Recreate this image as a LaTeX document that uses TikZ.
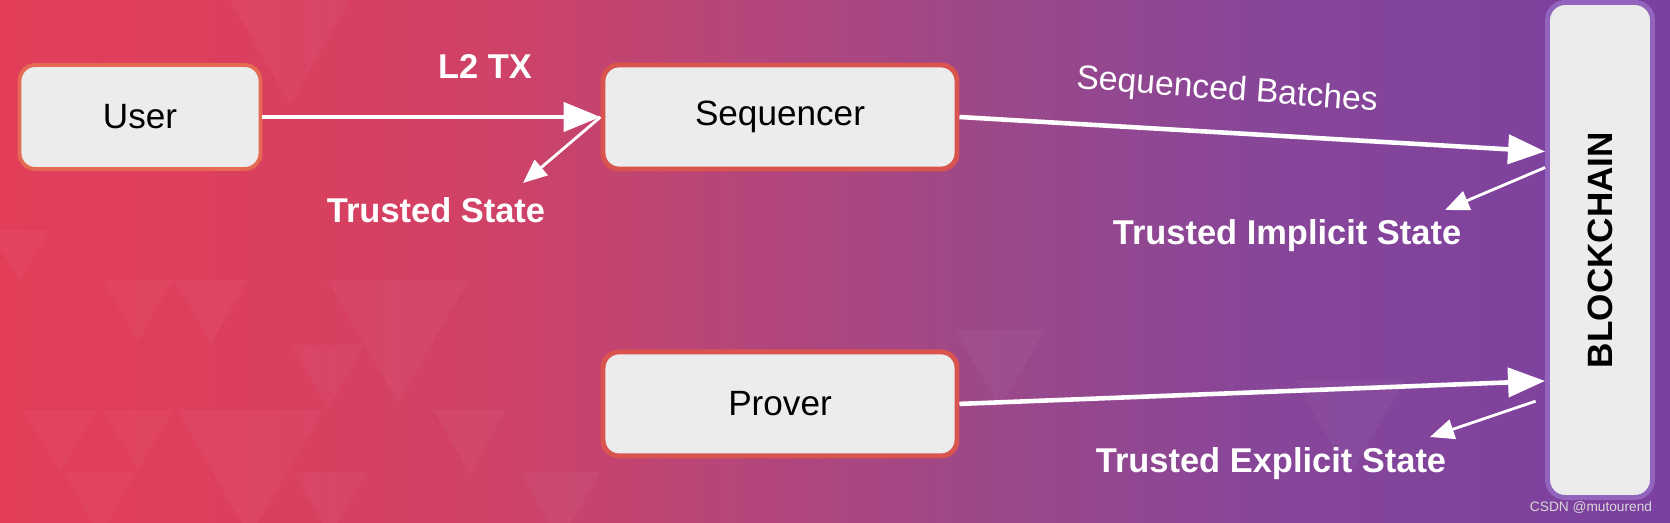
\documentclass[tikz,border=0pt]{standalone}
\usepackage{fontspec}
\setmainfont{Liberation Sans}
\usepackage{tikz}
\usetikzlibrary{positioning,arrows.meta,calc}

\definecolor{boxfill}{RGB}{236,236,236}
\definecolor{boxline}{RGB}{217,84,79}
\definecolor{userline}{RGB}{228,106,84}
\definecolor{chainline}{RGB}{146,100,190}
\definecolor{bgA}{RGB}{226,62,90}
\definecolor{bgB}{RGB}{219,63,94}
\definecolor{bgC}{RGB}{207,66,103}
\definecolor{bgD}{RGB}{180,70,123}
\definecolor{bgE}{RGB}{155,72,138}
\definecolor{bgF}{RGB}{136,70,152}
\definecolor{bgG}{RGB}{122,64,160}
\pgfdeclarehorizontalshading{bgshade}{100bp}{color(0bp)=(bgA); color(25bp)=(bgA);
  color(33bp)=(bgB); color(40bp)=(bgC); color(47.5bp)=(bgD); color(55bp)=(bgE);
  color(62.5bp)=(bgF); color(75bp)=(bgG); color(100bp)=(bgG)}

\begin{document}
\begin{tikzpicture}[
  x=0.1mm, y=-0.1mm,
  box/.style={draw=boxline, line width=1.4pt, rounded corners=4.5pt, fill=boxfill, minimum width=35.4mm, minimum height=10.4mm, font=\fontsize{10}{12}\selectfont},
  tag/.style={text=white, font=\bfseries\fontsize{9.8}{12}\selectfont},
  arr/.style={-{Triangle[length=3.7mm,width=2.9mm]}, draw=white, line width=1.3pt},
  thinarr/.style={-{Triangle[length=2.4mm,width=2mm]}, draw=white, line width=0.8pt}
]
\useasboundingbox (0,0) rectangle (1670,523);
\shade[shading=bgshade] (0,0) rectangle (1670,523);
\foreach \x/\y/\s in {20/230/60, 138/280/70, 211/280/73, 398/280/141, 328/345/73,
    60/410/73, 138/410/70, 250/410/146, 470/410/73, 100/472/73, 330/472/73, 560/472/80,
    290/0/120, 1000/330/90, 1350/380/110}
  \fill[white, opacity=0.035] (\x-\s/2,\y) -- (\x+\s/2,\y) -- (\x,\y+0.87*\s) -- cycle;

\node[box, draw=userline, line width=1.1pt, minimum width=24.1mm] (user) at (140,117) {User};
\node[box] (seq) at (780,117) {Sequencer};
\node[box, below=17.8mm of seq] (prover) {Prover};
\node[box, draw=chainline, minimum width=10.5mm, minimum height=49.5mm, rounded corners=5pt] (chain) at (1600,250) {};
\node[rotate=90, font=\bfseries\fontsize{10}{12}\selectfont] (chaintext) at (chain.center) {BLOCKCHAIN};

\coordinate (batchin) at ($(chain.north west)!0.303!(chain.south west)$);
\coordinate (implout) at ($(chain.north west)!0.335!(chain.south west)$);
\coordinate (proofin) at ($(chain.north west)!0.762!(chain.south west)$);
\coordinate (explout) at ($(chain.north west)!0.796!(chain.south west)$);
\coordinate (tstate) at (523,183);
\coordinate (timpl) at (1445,210);
\coordinate (texpl) at (1430,437);

\draw[arr] (user) -- (seq);
\draw[thinarr] (seq.west) -- (tstate);
\draw[arr] (seq.east) -- (batchin);
\draw[thinarr] (implout) -- (timpl);
\draw[arr] (prover.east) -- (proofin);
\draw[thinarr, shorten <=1mm] (explout) -- (texpl);

\node[tag] (l2tx) at (485,66) {L2 TX};
\node[tag] (trusted) at (436,210) {Trusted State};
\node[text=white, font=\fontsize{9.6}{12}\selectfont, rotate=-4.4] (batches) at (1227,91) {Sequenced Batches};
\node[tag] (implicit) at (1287,236) {Trusted Implicit State};
\node[tag] (explicit) at (1271,464) {Trusted Explicit State};
\node[text=white!85!black, font=\fontsize{3.9}{5}\selectfont] (mark) at (1591,507) {CSDN @mutourend};
\end{tikzpicture}
\end{document}
